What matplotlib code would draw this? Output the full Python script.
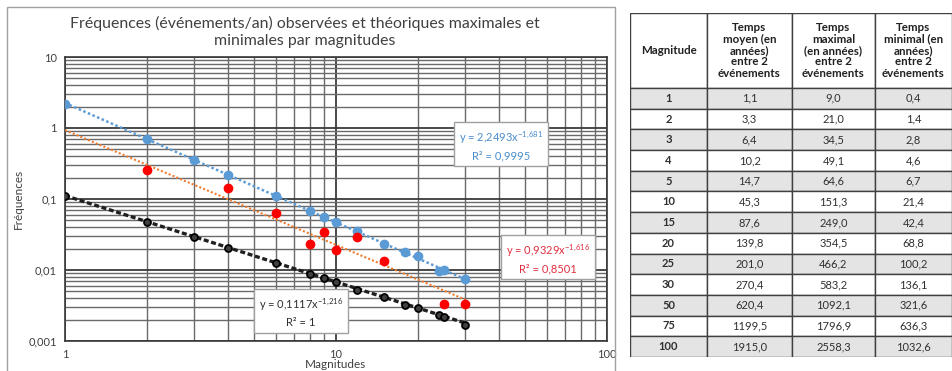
import numpy as np
import matplotlib
matplotlib.use("Agg")
import matplotlib.pyplot as plt
from matplotlib.patches import Rectangle

plt.rcParams["font.family"] = ["Lato", "DejaVu Sans"]

# -----------------------------
# Chart data
# -----------------------------
magnitudes = [1, 2, 3, 4, 6, 8, 9, 10, 12, 15, 18, 20, 24, 25, 30]
freq_max = [2.21, 0.711, 0.349, 0.221, 0.112, 0.067, 0.055, 0.047, 0.035,
            0.0236, 0.0177, 0.016, 0.0098, 0.0101, 0.0074]
freq_min = [0.112, 0.048, 0.0287, 0.0201, 0.0124, 0.0089, 0.0076, 0.0067,
            0.0053, 0.0041, 0.0032, 0.0029, 0.0023, 0.0022, 0.0017]
obs_magnitudes = [2, 4, 6, 8, 9, 10, 12, 15, 25, 30]
freq_obs = [0.26, 0.145, 0.0625, 0.023, 0.0348, 0.0194, 0.0287, 0.0132,
            0.00327, 0.00327]

# trendline coefficients (y = a * x^b) shown on the chart
fit_max = (2.2493, -1.681, "2,2493", "-1,681", "0,9995")
fit_obs = (0.9329, -1.616, "0,9329", "-1,616", "0,8501")
fit_min = (0.1117, -1.216, "0,1117", "-1,216", "1")

# -----------------------------
# Table data
# -----------------------------
table_header = ["Magnitude",
                "Temps\nmoyen (en\nannées)\nentre 2\névénements",
                "Temps\nmaximal\n(en années)\nentre 2\névénements",
                "Temps\nminimal (en\nannées)\nentre 2\névénements"]
table_mag = [1, 2, 3, 4, 5, 10, 15, 20, 25, 30, 50, 75, 100]
temps_moyen = [1.1, 3.3, 6.4, 10.2, 14.7, 45.3, 87.6, 139.8, 201.0, 270.4,
               620.4, 1199.5, 1915.0]
temps_max = [9.0, 21.0, 34.5, 49.1, 64.6, 151.3, 249.0, 354.5, 466.2, 583.2,
             1092.1, 1796.9, 2558.3]
temps_min = [0.4, 1.4, 2.8, 4.6, 6.7, 21.4, 42.4, 68.8, 100.2, 136.1,
             321.6, 636.3, 1032.6]

W, H = 953, 371
fig = plt.figure(figsize=(W / 100, H / 100), dpi=100)

# chart area frame
fig.add_artist(Rectangle((7 / W, -0.05), (615 - 7) / W, 1.05 - 7 / H,
                         transform=fig.transFigure, fill=False,
                         edgecolor="#a0a0a0", lw=1.0))

ax = fig.add_axes([65 / W, 1 - 341 / H, (607 - 65) / W, (341 - 57) / H])
ax.set_xscale("log")
ax.set_yscale("log")
ax.set_xlim(1, 100)
ax.set_ylim(0.001, 10)

ax.grid(True, which="minor", color="#6a6a6a", lw=1.0)
ax.grid(True, which="major", color="#3a3a3a", lw=1.3)
ax.set_axisbelow(True)
for s in ax.spines.values():
    s.set_color("#3a3a3a")
    s.set_linewidth(1.2)
ax.tick_params(which="both", length=0, labelsize=8, colors="#404040", pad=6)
ax.set_xticks([1, 10, 100])
ax.set_xticklabels(["1", "10", "100"])
ax.set_yticks([0.001, 0.01, 0.1, 1, 10])
ax.set_yticklabels(["0,001", "0,01", "0,1", "1", "10"])

# trendlines
xs = np.logspace(0, np.log10(30), 100)
ax.plot(xs, fit_max[0] * xs ** fit_max[1], color="#5B9BD5", lw=1.8,
        ls=(0, (1, 1)), zorder=3)
ax.plot(xs, fit_obs[0] * xs ** fit_obs[1], color="#ED7D31", lw=1.5,
        ls=(0, (1, 1)), zorder=3)
ax.plot(xs, fit_min[0] * xs ** fit_min[1], color="#202020", lw=2.4,
        ls=(0, (1.5, 0.8)), zorder=3)

# points
ax.plot(magnitudes, freq_max, "o", color="#5B9BD5", ms=6, zorder=4)
ax.plot(obs_magnitudes, freq_obs, "o", color="#FF0000", ms=6, zorder=4)
ax.plot(magnitudes, freq_min, "o", mfc="#404040", mec="black", mew=1.3,
        ms=5, zorder=4)


def eq_label(fit, color, xy):
    a, b, a_txt, b_txt, r2 = fit
    txt = ("y = " + a_txt + "x$^{\\mathregular{" + b_txt.replace(",", "{,}") + "}}$"
           + "\nR² = " + r2)
    ax.text(xy[0], xy[1], txt, transform=fig.transFigure, color=color,
            fontsize=8, ha="center", va="center", linespacing=1.5, zorder=6,
            bbox=dict(boxstyle="square,pad=0.45", fc="white", ec="#a0a0a0", lw=1))


eq_label(fit_max, "#4a8ccc", (501 / W, 1 - 145 / H))
eq_label(fit_obs, "#e03040", (548 / W, 1 - 258 / H))
eq_label(fit_min, "#303030", (301 / W, 1 - 312 / H))

fig.text(305 / W, 1 - 32 / H,
         "Fréquences (événements/an) observées et théoriques maximales et\nminimales par magnitudes",
         ha="center", va="center", fontsize=11.4, color="#404040", linespacing=1.2)
fig.text(336 / W, 1 - 365 / H, "Magnitudes", ha="center", va="center",
         fontsize=8.5, color="#404040")
fig.text(18 / W, 1 - 199 / H, "Fréquences", ha="center", va="center",
         fontsize=8.5, color="#404040", rotation=90)

# -----------------------------
# Table
# -----------------------------
tx0, tx1, ty0, ty1 = 630, 952, 13, 357
tax = fig.add_axes([tx0 / W, 1 - ty1 / H, (tx1 - tx0) / W, (ty1 - ty0) / H])
col_w = [77, 85, 83, 77]
col_x = np.concatenate([[0], np.cumsum(col_w)])
head_h = 75
row_h = (ty1 - ty0 - head_h) / len(table_mag)
tax.set_xlim(0, col_x[-1])
tax.set_ylim(ty1 - ty0, 0)
tax.axis("off")


def fmt(v):
    return f"{v:.1f}".replace(".", ",")


for j, h in enumerate(table_header):
    tax.add_patch(Rectangle((col_x[j], 0), col_w[j], head_h, fc="white",
                            ec="#404040", lw=1.0))
    tax.text(col_x[j] + col_w[j] / 2, head_h / 2, h, ha="center", va="center",
             fontsize=8.3, fontweight="bold", color="#202020", linespacing=1.05)

for i, m in enumerate(table_mag):
    y = head_h + i * row_h
    fc = "#e4e4e4" if i % 2 == 0 else "white"
    row = [str(m), fmt(temps_moyen[i]), fmt(temps_max[i]), fmt(temps_min[i])]
    for j, val in enumerate(row):
        tax.add_patch(Rectangle((col_x[j], y), col_w[j], row_h, fc=fc,
                                ec="#404040", lw=1.0))
        tax.text(col_x[j] + col_w[j] / 2, y + row_h / 2, val, ha="center",
                 va="center", fontsize=8, color="#303030",
                 fontweight="bold" if j == 0 else "normal")

fig.savefig("out.png", dpi=100)
